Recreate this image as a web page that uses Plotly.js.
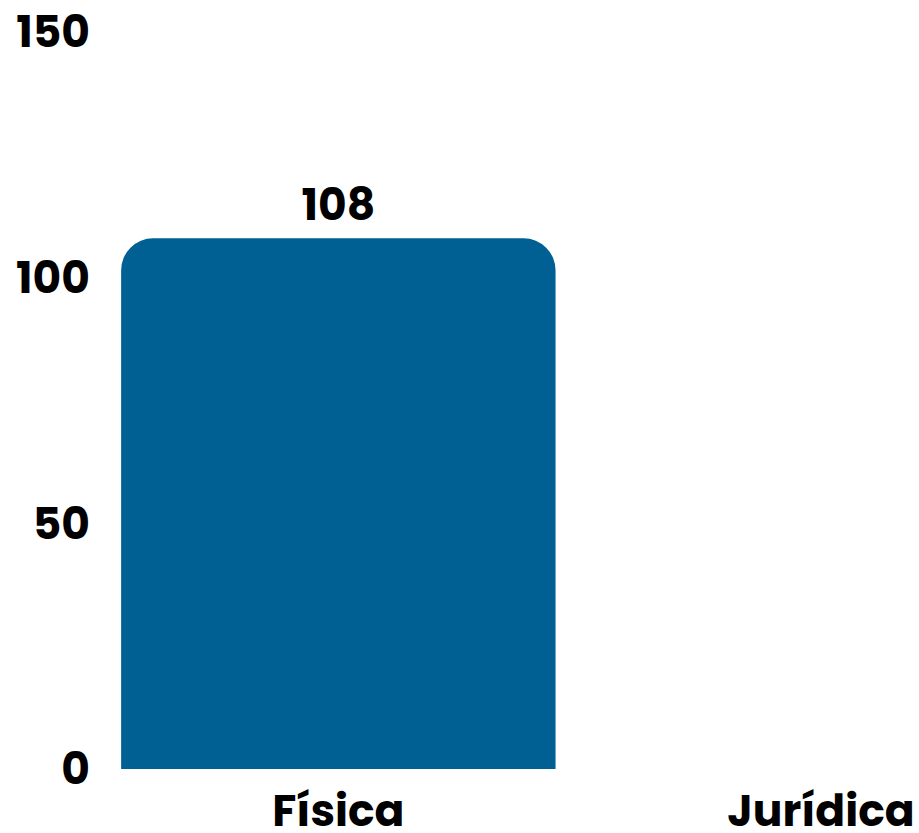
<!DOCTYPE html>
<html>
<head>
<meta charset="utf-8">
<script src="https://cdn.plot.ly/plotly-3.0.1.min.js"></script>
<style>html,body{margin:0;padding:0;background:#fff;}#chart{width:919px;height:833px;}</style>
</head>
<body>
<div id="chart"></div>
<script>
const categories = ["Física", "Jurídica"];
const values = [108, 0];
const yTicks = [0, 50, 100, 150];

const labels = values.map(v => v > 0 ? String(v) : "");
const fontFam = "Poppins, Lato, 'Open Sans', sans-serif";

Plotly.newPlot("chart", [{
  type: "bar",
  x: categories,
  y: values,
  text: labels,
  textposition: "outside",
  cliponaxis: false,
  textfont: {family: fontFam, size: 44, color: "#000", weight: 700},
  marker: {color: "#006094", cornerradius: 32},
  width: 0.9,
  hoverinfo: "none"
}], {
  width: 919, height: 833,
  margin: {l: 96.5, r: 0, t: 32, b: 64},
  paper_bgcolor: "#fff", plot_bgcolor: "#fff",
  showlegend: false,
  font: {family: fontFam, color: "#000"},
  xaxis: {
    range: [-0.5, 1.203],
    showgrid: false, zeroline: false, showline: false,
    ticks: "", ticklabelstandoff: 12,
    tickfont: {family: fontFam, size: 44, color: "#000", weight: 700}
  },
  yaxis: {
    range: [0, 150],
    tickvals: yTicks,
    showgrid: false, zeroline: false, showline: false,
    ticks: "", ticklabelstandoff: 6,
    tickfont: {family: fontFam, size: 44, color: "#000", weight: 700}
  }
}, {staticPlot: true, displayModeBar: false});
</script>
</body>
</html>
